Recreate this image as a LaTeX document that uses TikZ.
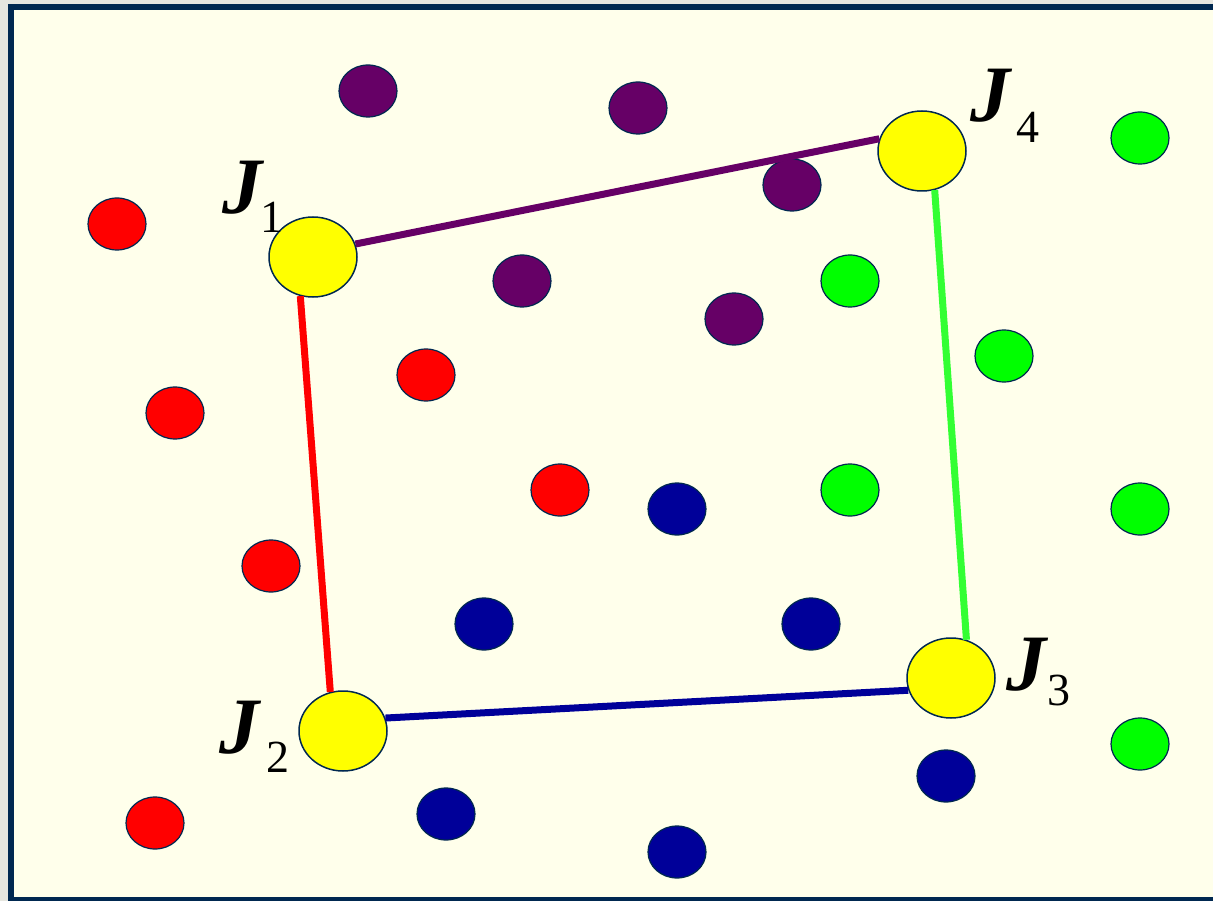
\documentclass[tikz,border=0pt]{standalone}
\usepackage{fontspec}
\setmainfont{Liberation Serif}
\usetikzlibrary{shapes.geometric}
\definecolor{outsidegray}{HTML}{E6E6DF}
\definecolor{cream}{HTML}{FFFFEB}
\definecolor{navy}{HTML}{002850}
\definecolor{dpurple}{HTML}{660066}
\definecolor{dblue}{HTML}{000099}
\definecolor{bgreen}{HTML}{00FF00}
\definecolor{lgreen}{HTML}{33FF33}
\definecolor{jyellow}{HTML}{FFFF00}
\tikzset{
  dot/.style={ellipse, draw=navy, line width=1.2pt, minimum width=58pt, minimum height=52pt, inner sep=0pt},
  pdot/.style={dot, fill=dpurple},
  rdot/.style={dot, fill=red},
  gdot/.style={dot, fill=bgreen},
  bdot/.style={dot, fill=dblue},
  jdot/.style={ellipse, draw=navy, line width=1.5pt, fill=jyellow, minimum width=88pt, minimum height=80pt, inner sep=0pt},
  jlab/.style={inner sep=0pt, font=\fontsize{80}{80}\selectfont\bfseries\itshape},
  jsub/.style={inner sep=0pt, font=\fontsize{46}{46}\selectfont},
  link/.style={line width=7pt}
}
\begin{document}
\begin{tikzpicture}[x=1pt,y=-1pt]
\useasboundingbox (0,0) rectangle (1213,901);
\fill[outsidegray] (0,0) rectangle (1213,901);
\filldraw[fill=cream, draw=navy, line width=6pt] (11,7) rectangle (1225,900);
% purple
\node[pdot] (p1) at (368,91) {};
\node[pdot] (p2) at (638,108) {};
\node[pdot] (p3) at (792,185) {};
\node[pdot] (p4) at (522,281) {};
\node[pdot] (p5) at (734,319) {};
% red
\node[rdot] (r1) at (117,224) {};
\node[rdot] (r2) at (175,413) {};
\node[rdot] (r3) at (426,375) {};
\node[rdot] (r4) at (560,490) {};
\node[rdot] (r5) at (271,566) {};
\node[rdot] (r6) at (155,823) {};
% green
\node[gdot] (g1) at (1140,138) {};
\node[gdot] (g2) at (850,281) {};
\node[gdot] (g3) at (1004,356) {};
\node[gdot] (g4) at (850,490) {};
\node[gdot] (g5) at (1140,509) {};
\node[gdot] (g6) at (1140,744) {};
% blue
\node[bdot] (b1) at (677,509) {};
\node[bdot] (b2) at (484,624) {};
\node[bdot] (b3) at (811,624) {};
\node[bdot] (b4) at (446,814) {};
\node[bdot] (b5) at (946,776) {};
\node[bdot] (b6) at (677,852) {};
% yellow centres
\node[jdot] (J1) at (313,257) {};
\node[jdot] (J4) at (922,151) {};
\node[jdot] (J3) at (951,678) {};
\node[jdot] (J2) at (343,731) {};
% links
\draw[link, dpurple] (J1.17) -- (J4.164);
\draw[link, red] (J1.252) -- (J2.108);
\draw[link, lgreen] (J4.288) -- (J3.68);
\draw[link, dblue] (J2.17) -- (J3.196);
% labels
\node[jlab] (L1) at (242,188) {J};
\node[jsub] (S1) at (272,217) {1};
\node[jlab] (L4) at (990,96) {J};
\node[jsub] (S4) at (1028,127) {4};
\node[jlab] (L3) at (1026,665) {J};
\node[jsub] (S3) at (1059,690) {3};
\node[jlab] (L2) at (239,728) {J};
\node[jsub] (S2) at (278,757) {2};
\end{tikzpicture}
\end{document}
